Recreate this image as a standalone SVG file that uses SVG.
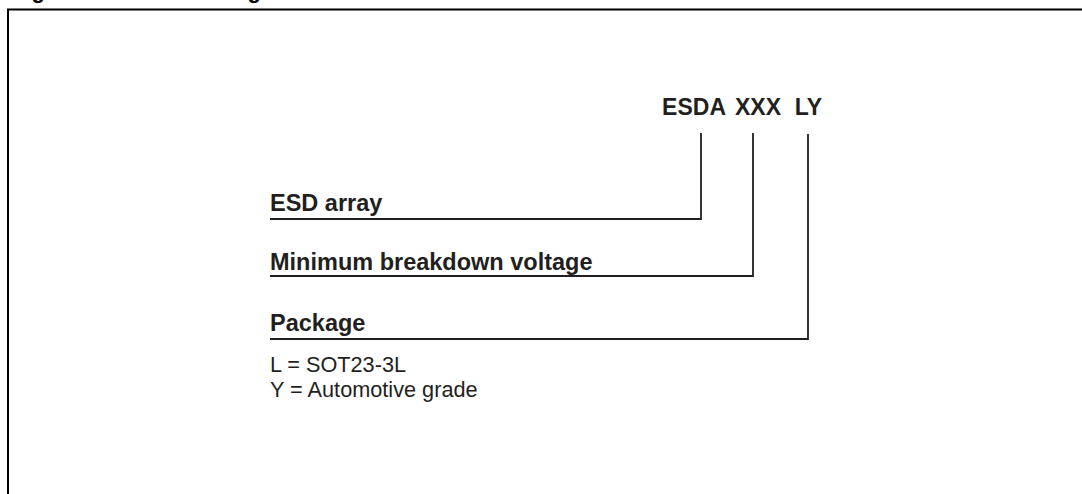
<svg xmlns="http://www.w3.org/2000/svg" width="1082" height="494" viewBox="0 0 1082 494">
<style>
.frame{fill:none;stroke:#000;stroke-width:2}
.conn{fill:none;stroke:#231f20;stroke-width:1.8}
.b{font-family:"Liberation Sans",Arial,sans-serif;font-weight:bold;font-size:23.5px;fill:#231f20}
.c{font-family:"Liberation Sans",Arial,sans-serif;font-weight:bold;font-size:23px;fill:#231f20}
.r{font-family:"Liberation Sans",Arial,sans-serif;font-size:21.7px;fill:#231f20}
.t{font-family:"Liberation Sans",Arial,sans-serif;font-weight:bold;font-size:22px;fill:#000}
</style>
<rect width="1082" height="494" fill="#fff"/>
<g id="title"><text class="t" x="12" y="-2">Figure 1.<tspan x="168">Ordering information scheme</tspan></text></g>
<path class="frame" d="M8,500 V9.5 H1090"/>
<g id="code">
<text class="c" x="726" y="115" text-anchor="end">ESDA</text>
<text class="c" x="758" y="115" text-anchor="middle">XXX</text>
<text class="c" x="822" y="115" text-anchor="end">LY</text>
</g>
<g id="esd"><text class="b" x="270" y="211">ESD array</text></g>
<g id="voltage"><text class="b" x="270" y="270">Minimum breakdown voltage</text></g>
<g id="package"><text class="b" x="270" y="331">Package</text>
<text class="r" x="270" y="372">L = SOT23-3L</text>
<text class="r" x="270" y="397">Y = Automotive grade</text></g>
<g id="connectors">
<path class="conn" d="M270,219 H701 V133"/>
<path class="conn" d="M270,276 H753 V133"/>
<path class="conn" d="M270,339 H808 V134"/>
</g>
</svg>
